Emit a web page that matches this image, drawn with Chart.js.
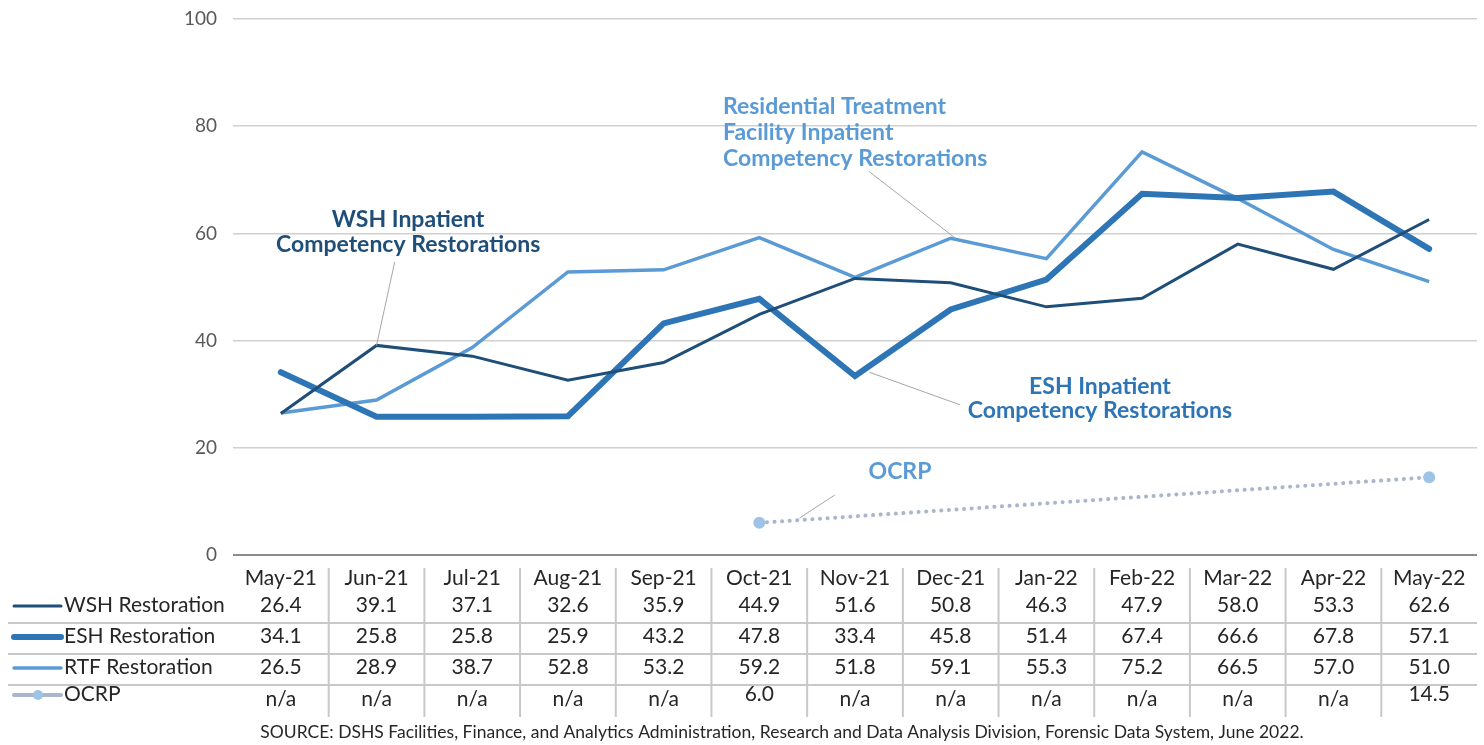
<!DOCTYPE html>
<html>
<head>
<meta charset="utf-8">
<script src="https://cdn.jsdelivr.net/npm/chart.js@4.4.1/dist/chart.umd.min.js"></script>
<style>
  html, body { margin: 0; padding: 0; background: #fff; }
  #wrap { width: 1484px; height: 745px; }
</style>
</head>
<body>
<div id="wrap"><canvas id="myChart"></canvas></div>
<script>
/* data */
const months = ['May-21', 'Jun-21', 'Jul-21', 'Aug-21', 'Sep-21', 'Oct-21', 'Nov-21', 'Dec-21', 'Jan-22', 'Feb-22', 'Mar-22', 'Apr-22', 'May-22'];
const wshValues = [26.4, 39.1, 37.1, 32.6, 35.9, 44.9, 51.6, 50.8, 46.3, 47.9, 58.0, 53.3, 62.6];
const eshValues = [34.1, 25.8, 25.8, 25.9, 43.2, 47.8, 33.4, 45.8, 51.4, 67.4, 66.6, 67.8, 57.1];
const rtfValues = [26.5, 28.9, 38.7, 52.8, 53.2, 59.2, 51.8, 59.1, 55.3, 75.2, 66.5, 57.0, 51.0];
const ocrpValues = [null, null, null, null, null, 6.0, null, null, null, null, null, null, 14.5];
const yTicks = [0, 20, 40, 60, 80, 100];

const seriesNames = ['WSH Restoration', 'ESH Restoration', 'RTF Restoration', 'OCRP'];
const sourceText = 'SOURCE: DSHS Facilities, Finance, and Analytics Administration, Research and Data Analysis Division, Forensic Data System, June 2022.';

const WSH = '#1f4e79', ESH = '#2e75b6', RTF = '#5b9bd5', OCRP = '#a9b6cc', OCRP_PT = '#9dc3e6';
const FONT = 'Lato, "Open Sans", sans-serif';

/* callout labels, positioned in data units (category index, value) */
const callouts = [
    { lines: ['WSH Inpatient', 'Competency Restorations'], color: WSH, align: 'center', x: 1.33, y: [62.6, 58.0],
      from: [1.19, 54.7], to: [1, 39.1] },
    { lines: ['Residential Treatment', 'Facility Inpatient', 'Competency Restorations'], color: RTF, align: 'left', x: 4.62, y: [83.6, 78.8, 73.9],
      from: [6.15, 71.5], to: [7.05, 59.1] },
    { lines: ['ESH Inpatient', 'Competency Restorations'], color: ESH, align: 'center', x: 8.56, y: [31.5, 26.9],
      from: [7.1, 28.0], to: [6.15, 34.1] },
    { lines: ['OCRP'], color: RTF, align: 'center', x: 6.47, y: [15.5],
      from: [5.79, 11.2], to: [5.42, 6.9] }
];

const calloutPlugin = {
    id: 'callouts',
    afterDatasetsDraw(chart) {
        const { ctx, scales: { x, y } } = chart;
        const px = v => x.getPixelForValue(v);
        ctx.save();
        ctx.strokeStyle = '#a6a6a6';
        ctx.lineWidth = 1;
        callouts.forEach(c => {
            ctx.beginPath();
            ctx.moveTo(px(c.from[0]), y.getPixelForValue(c.from[1]));
            ctx.lineTo(px(c.to[0]), y.getPixelForValue(c.to[1]));
            ctx.stroke();
        });
        ctx.font = 'bold 23px ' + FONT;
        ctx.textBaseline = 'middle';
        callouts.forEach(c => {
            ctx.fillStyle = c.color;
            ctx.textAlign = c.align;
            c.lines.forEach((t, i) => ctx.fillText(t, px(c.x), y.getPixelForValue(c.y[i])));
        });
        ctx.restore();
    }
};

/* data table under the plot */
const tablePlugin = {
    id: 'dataTable',
    afterDraw(chart) {
        const { ctx, scales: { x }, chartArea } = chart;
        const step = x.getPixelForValue(1) - x.getPixelForValue(0);
        const b = chartArea.bottom;
        const top = b + 13;
        const bottom = b + 162;
        const rowY = [b + 23, b + 50, b + 81, b + 112, b + 144];
        const lineY = [b + 68, b + 99, b + 130];
        ctx.save();
        ctx.strokeStyle = '#c8c8c8';
        ctx.lineWidth = 2;
        for (let i = 1; i < months.length; i++) {
            const vx = x.getPixelForValue(i) - step / 2;
            ctx.beginPath(); ctx.moveTo(vx, top); ctx.lineTo(vx, bottom); ctx.stroke();
        }
        lineY.forEach(ly => {
            ctx.beginPath(); ctx.moveTo(8, ly); ctx.lineTo(chartArea.right, ly); ctx.stroke();
        });

        ctx.font = '21px ' + FONT;
        ctx.fillStyle = '#262626';
        ctx.textBaseline = 'middle';
        ctx.textAlign = 'center';
        months.forEach((m, i) => ctx.fillText(m, x.getPixelForValue(i), rowY[0]));
        [wshValues, eshValues, rtfValues, ocrpValues].forEach((vals, r) => {
            vals.forEach((v, i) => {
                const t = v === null ? 'n/a' : v.toFixed(1);
                const dy = (r === 3 && v !== null) ? -5 : 0;
                ctx.fillText(t, x.getPixelForValue(i), rowY[r + 1] + dy);
            });
        });

        // legend keys
        ctx.textAlign = 'left';
        const keyStyles = [[WSH, 3], [ESH, 6], [RTF, 3.5], [OCRP, 4]];
        seriesNames.forEach((name, r) => {
            const off = r === 3 ? -5 : 0;
            const ky = rowY[r + 1] + 1 + off;
            ctx.strokeStyle = keyStyles[r][0];
            ctx.lineWidth = keyStyles[r][1];
            ctx.lineCap = 'round';
            ctx.beginPath(); ctx.moveTo(14, ky); ctx.lineTo(61, ky); ctx.stroke();
            if (r === 3) {
                ctx.fillStyle = OCRP_PT;
                ctx.beginPath(); ctx.arc(38, ky, 5, 0, Math.PI * 2); ctx.fill();
            }
            ctx.fillStyle = '#262626';
            ctx.fillText(name, 64, rowY[r + 1] + off);
        });

        ctx.font = '17.5px ' + FONT;
        ctx.textAlign = 'center';
        ctx.fillText(sourceText, 782, b + 177);
        ctx.restore();
    }
};

new Chart(document.getElementById('myChart'), {
    type: 'line',
    data: {
        labels: months,
        datasets: [{
            label: seriesNames[0],
            data: wshValues,
            borderColor: WSH,
            borderWidth: 3,
            pointRadius: 0
        }, {
            label: seriesNames[1],
            data: eshValues,
            borderColor: ESH,
            borderWidth: 6,
            pointRadius: 0,
            borderCapStyle: 'round'
        }, {
            label: seriesNames[2],
            data: rtfValues,
            borderColor: RTF,
            borderWidth: 3.5,
            pointRadius: 0
        }, {
            label: seriesNames[3],
            data: ocrpValues,
            borderColor: OCRP,
            borderWidth: 4,
            borderDash: [0.1, 7.5],
            borderCapStyle: 'round',
            spanGaps: true,
            pointRadius: 6,
            pointBackgroundColor: OCRP_PT,
            pointBorderWidth: 0
        }]
    },
    options: {
        responsive: true,
        maintainAspectRatio: false,
        animation: false,
        layout: { padding: { top: 19, right: 7, bottom: 190, left: 0 } },
        plugins: {
            legend: { display: false },
            tooltip: { enabled: false }
        },
        scales: {
            x: {
                display: false,
                offset: true
            },
            y: {
                min: 0,
                max: 100,
                afterFit: s => { s.width = 233; s.paddingTop = 0; s.paddingBottom = 0; },
                afterBuildTicks: s => { s.ticks = yTicks.map(v => ({ value: v })); },
                border: { display: false },
                grid: {
                    color: c => c.tick.value === 0 ? '#8c8c8c' : '#d0d0d0',
                    lineWidth: c => c.tick.value === 0 ? 2 : 1.5,
                    drawTicks: false
                },
                ticks: {
                    padding: 16,
                    color: '#595959',
                    font: { family: FONT, size: 19 }
                }
            }
        }
    },
    plugins: [calloutPlugin, tablePlugin]
});
</script>
</body>
</html>
